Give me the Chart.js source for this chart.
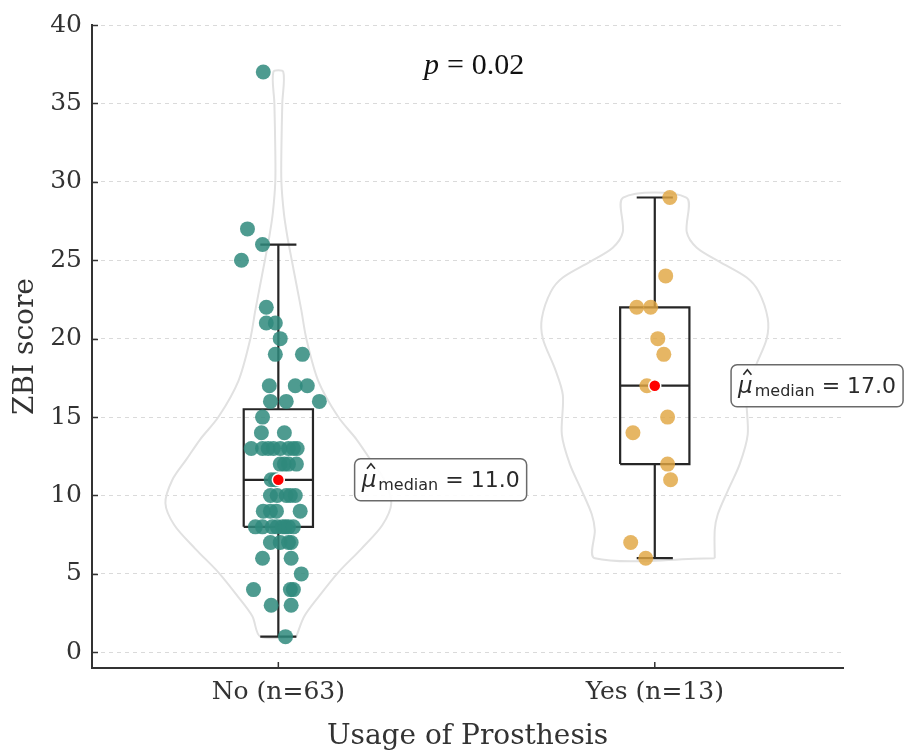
<!DOCTYPE html>
<html>
<head>
<meta charset="utf-8">
<title>ZBI score by usage of prosthesis</title>
<script src="https://cdn.jsdelivr.net/npm/chart.js@4.4.1/dist/chart.umd.min.js"></script>
<style>
  html, body { margin: 0; padding: 0; background: #fff; }
</style>
</head>
<body>
<canvas id="zbiChart" width="904" height="754"></canvas>
<script>
const groups = ["No", "Yes"];
const groupLabels = ["No (n=63)", "Yes (n=13)"];
const yTicks = [0, 5, 10, 15, 20, 25, 30, 35, 40];
const pValue = "0.02";

// ZBI scores, with the horizontal jitter of each dot
const noScores = [
  37, 27, 26, 25, 22, 21, 21, 20, 19, 19,
  17, 17, 17, 16, 16, 16, 15, 14, 14,
  13, 13, 13, 13, 13, 13, 13, 13,
  12, 12, 12, 12, 11, 11,
  10, 10, 10, 10, 10, 9, 9, 9, 9,
  8, 8, 8, 8, 8, 8, 8, 8,
  7, 7, 7, 7, 6, 6, 5, 4, 4, 4, 3, 3, 1
];
const noJitter = [
  -0.040, -0.082, -0.042, -0.098, -0.032, -0.032, -0.008, 0.005, -0.008, 0.064,
  -0.024, 0.045, 0.077, -0.021, 0.021, 0.109, -0.042, -0.045, 0.016,
  -0.072, -0.042, -0.027, -0.013, 0.005, 0.027, 0.040, 0.050,
  0.005, 0.016, 0.027, 0.048, -0.019, -0.008,
  -0.021, -0.003, 0.021, 0.032, 0.045, -0.040, -0.021, -0.005, 0.058,
  -0.061, -0.042, -0.016, -0.003, 0.011, 0.019, 0.027, 0.040,
  -0.021, 0.005, 0.027, 0.034, -0.042, 0.034, 0.061, -0.066, 0.032, 0.040, -0.019, 0.034, 0.019
];
const yesScores = [29, 24, 22, 22, 20, 19, 17, 15, 14, 12, 11, 7, 6];
const yesJitter = [0.040, 0.029, -0.048, -0.011, 0.008, 0.024, -0.021, 0.034, -0.058, 0.034, 0.042, -0.064, -0.024];

// violin outlines: score level and relative half width (1 = widest)
const noViolinY = [1, 2.3, 3.6, 5.1, 6.6, 8.1, 9.5, 11, 12.3, 13.6, 15, 17.3, 20, 21.8, 23.5, 25, 26.5, 28, 30, 32, 35, 37];
const noViolinW = [0.159, 0.230, 0.363, 0.531, 0.735, 0.920, 1.0, 0.938, 0.814, 0.690, 0.531, 0.354, 0.248, 0.204, 0.159, 0.119, 0.080, 0.049, 0.027, 0.027, 0.035, 0.044];
const yesViolinY = [6, 7.8, 8.8, 10.3, 12, 13.9, 16.4, 18.1, 20, 21.3, 23, 23.9, 24.9, 25.8, 26.8, 29];
const yesViolinW = [0.531, 0.531, 0.558, 0.646, 0.752, 0.823, 0.814, 0.885, 0.991, 1.0, 0.920, 0.814, 0.575, 0.372, 0.283, 0.280];

const VIOLIN_HALF = 0.30;
const BOX_HALF = 0.092;
const CAP_HALF = 0.048;
const TEAL = "rgba(47, 137, 125, 0.85)";
const GOLD = "rgba(224, 166, 66, 0.82)";
const INK = "#262626";

Chart.defaults.font.family = '"DejaVu Serif", serif';
Chart.defaults.color = "#333";

const quantile = (arr, q) => {
  const s = [...arr].sort((a, b) => a - b);
  const pos = (s.length - 1) * q;
  const lo = Math.floor(pos);
  const hi = Math.ceil(pos);
  return s[lo] + (s[hi] - s[lo]) * (pos - lo);
};

const boxStats = (arr) => {
  const q1 = quantile(arr, 0.25);
  const q3 = quantile(arr, 0.75);
  const iqr = q3 - q1;
  const inside = arr.filter((v) => v >= q1 - 1.5 * iqr && v <= q3 + 1.5 * iqr);
  return { q1, q3, med: quantile(arr, 0.5), lo: Math.min(...inside), hi: Math.max(...inside) };
};

const violinPath = (center, ys, ws) => {
  const right = ys.map((y, i) => ({ x: center + ws[i] * VIOLIN_HALF, y }));
  const left = ys.map((y, i) => ({ x: center - ws[i] * VIOLIN_HALF, y })).reverse();
  return [...right, ...left, right[0]];
};

const boxPath = (center, s) => {
  const L = center - BOX_HALF;
  const R = center + BOX_HALF;
  const gap = { x: center, y: null };
  return [
    { x: L, y: s.q1 }, { x: R, y: s.q1 }, { x: R, y: s.q3 }, { x: L, y: s.q3 }, { x: L, y: s.q1 }, gap,
    { x: L, y: s.med }, { x: R, y: s.med }, gap,
    { x: center, y: s.q3 }, { x: center, y: s.hi }, gap,
    { x: center - CAP_HALF, y: s.hi }, { x: center + CAP_HALF, y: s.hi }, gap,
    { x: center, y: s.q1 }, { x: center, y: s.lo }, gap,
    { x: center - CAP_HALF, y: s.lo }, { x: center + CAP_HALF, y: s.lo }
  ];
};

const noStats = boxStats(noScores);
const yesStats = boxStats(yesScores);

const lineSet = (data, color, width, order, tension) => ({
  data,
  showLine: true,
  borderColor: color,
  borderWidth: width,
  pointRadius: 0,
  tension,
  fill: false,
  borderJoinStyle: "miter",
  order
});

const dotSet = (data, color, radius, order, border) => ({
  data,
  showLine: false,
  backgroundColor: color,
  pointRadius: radius,
  pointBorderWidth: border ? 1.5 : 0,
  pointBorderColor: "#fff",
  order
});

// text, spine ticks and median labels
const extrasPlugin = {
  id: "extras",
  afterDraw(chart) {
    const { ctx, chartArea, scales } = chart;
    const x = scales.x;
    const y = scales.y;
    ctx.save();

    ctx.strokeStyle = "#333";
    ctx.lineWidth = 1.5;
    yTicks.forEach((v) => {
      const py = Math.round(y.getPixelForValue(v)) + 0.5;
      ctx.beginPath();
      ctx.moveTo(chartArea.left, py);
      ctx.lineTo(chartArea.left + 6, py);
      ctx.stroke();
    });
    groups.forEach((g, i) => {
      const px = x.getPixelForValue(i);
      ctx.beginPath();
      ctx.moveTo(px, chartArea.bottom);
      ctx.lineTo(px, chartArea.bottom - 6);
      ctx.stroke();
    });

    ctx.fillStyle = "#333";
    ctx.font = '28px "DejaVu Serif"';
    ctx.textAlign = "center";
    ctx.textBaseline = "alphabetic";
    ctx.fillText("Usage of Prosthesis", (chartArea.left + chartArea.right) / 2, 744);
    ctx.save();
    ctx.translate(33, (chartArea.top + chartArea.bottom) / 2);
    ctx.rotate(-Math.PI / 2);
    ctx.fillText("ZBI score", 0, 0);
    ctx.restore();

    // p value, math style
    ctx.fillStyle = "#111";
    ctx.textAlign = "left";
    const serif = '30px "Liberation Serif"';
    ctx.font = "italic " + serif;
    const wp = ctx.measureText("p").width;
    ctx.font = serif;
    const we = ctx.measureText("=").width;
    const wn = ctx.measureText(pValue).width;
    const gapP = 8;
    const total = wp + gapP + we + gapP + wn;
    let tx = x.getPixelForValue(0.52) - total / 2;
    const ty = y.getPixelForValue(36.9);
    ctx.font = "italic " + serif;
    ctx.fillText("p", tx, ty);
    tx += wp + gapP;
    ctx.font = serif;
    ctx.fillText("=", tx, ty);
    tx += we + gapP;
    ctx.fillText(pValue, tx, ty);

    drawMedianLabel(ctx, x.getPixelForValue(0.2), y.getPixelForValue(noStats.med), noStats.med);
    drawMedianLabel(ctx, x.getPixelForValue(1.2), y.getPixelForValue(yesStats.med), yesStats.med);
    ctx.restore();
  }
};

function drawMedianLabel(ctx, left, cy, value) {
  const muFont = 'oblique 23px "DejaVu Sans"';
  const subFont = '16px "DejaVu Sans"';
  const mainFont = '22px "DejaVu Sans"';
  const rest = " = " + value.toFixed(1);
  ctx.font = muFont;
  const wMu = ctx.measureText("μ").width;
  ctx.font = subFont;
  const wSub = ctx.measureText("median").width;
  ctx.font = mainFont;
  const wRest = ctx.measureText(rest).width;
  const padX = 7;
  const h = 42;
  const w = padX * 2 + wMu + 2 + wSub + wRest;
  const top = cy - h / 2;

  ctx.beginPath();
  ctx.roundRect(left + 1, top, w, h, 6);
  ctx.fillStyle = "rgba(255,255,255,0.92)";
  ctx.fill();
  ctx.lineWidth = 1.5;
  ctx.strokeStyle = "#6a6a6a";
  ctx.stroke();

  const base = cy + 7;
  let tx = left + 1 + padX;
  ctx.fillStyle = "#2a2a2a";
  ctx.textAlign = "left";
  ctx.textBaseline = "alphabetic";
  ctx.font = muFont;
  ctx.fillText("μ", tx, base);
  // hat over mu
  const hx = tx + wMu / 2 + 2;
  ctx.beginPath();
  ctx.moveTo(hx - 4, base - 18);
  ctx.lineTo(hx, base - 23);
  ctx.lineTo(hx + 4, base - 18);
  ctx.lineWidth = 1.6;
  ctx.strokeStyle = "#2a2a2a";
  ctx.stroke();
  tx += wMu + 2;
  ctx.font = subFont;
  ctx.fillText("median", tx, base + 3);
  tx += wSub;
  ctx.font = mainFont;
  ctx.fillText(rest, tx, base);
}

new Chart(document.getElementById("zbiChart"), {
  type: "scatter",
  data: {
    datasets: [
      dotSet([{ x: 0, y: noStats.med }, { x: 1, y: yesStats.med }], "#ff0000", 6, 0, true),
      dotSet(noScores.map((v, i) => ({ x: noJitter[i], y: v })), TEAL, 7.5, 1, false),
      dotSet(yesScores.map((v, i) => ({ x: 1 + yesJitter[i], y: v })), GOLD, 7.5, 2, false),
      lineSet(boxPath(0, noStats), INK, 2.2, 3, 0),
      lineSet(boxPath(1, yesStats), INK, 2.2, 4, 0),
      lineSet(violinPath(0, noViolinY, noViolinW), "#e1e1e1", 2, 5, 0.3),
      lineSet(violinPath(1, yesViolinY, yesViolinW), "#e1e1e1", 2, 6, 0.3)
    ]
  },
  options: {
    responsive: false,
    devicePixelRatio: 1,
    animation: false,
    events: [],
    layout: { padding: { top: 24, right: 61, left: 0, bottom: 0 } },
    plugins: {
      legend: { display: false },
      tooltip: { enabled: false }
    },
    scales: {
      x: {
        type: "linear",
        min: -0.495,
        max: 1.5,
        afterFit: (s) => { s.height = 86; },
        afterBuildTicks: (s) => { s.ticks = groups.map((g, i) => ({ value: i })); },
        ticks: {
          font: { size: 25 },
          color: "#333",
          padding: 1,
          maxRotation: 0,
          callback: (v, i) => groupLabels[i]
        },
        grid: { display: false },
        border: { display: true, color: "#333", width: 2 }
      },
      y: {
        min: -1,
        max: 40,
        afterFit: (s) => { s.width = 92; },
        afterBuildTicks: (s) => { s.ticks = yTicks.map((v) => ({ value: v })); },
        ticks: {
          font: { size: 25 },
          color: "#333",
          padding: 10
        },
        grid: { color: "#dadada", lineWidth: 1, drawTicks: false },
        border: { display: true, color: "#333", width: 2, dash: [4, 4] }
      }
    }
  },
  plugins: [extrasPlugin]
});
</script>
</body>
</html>
